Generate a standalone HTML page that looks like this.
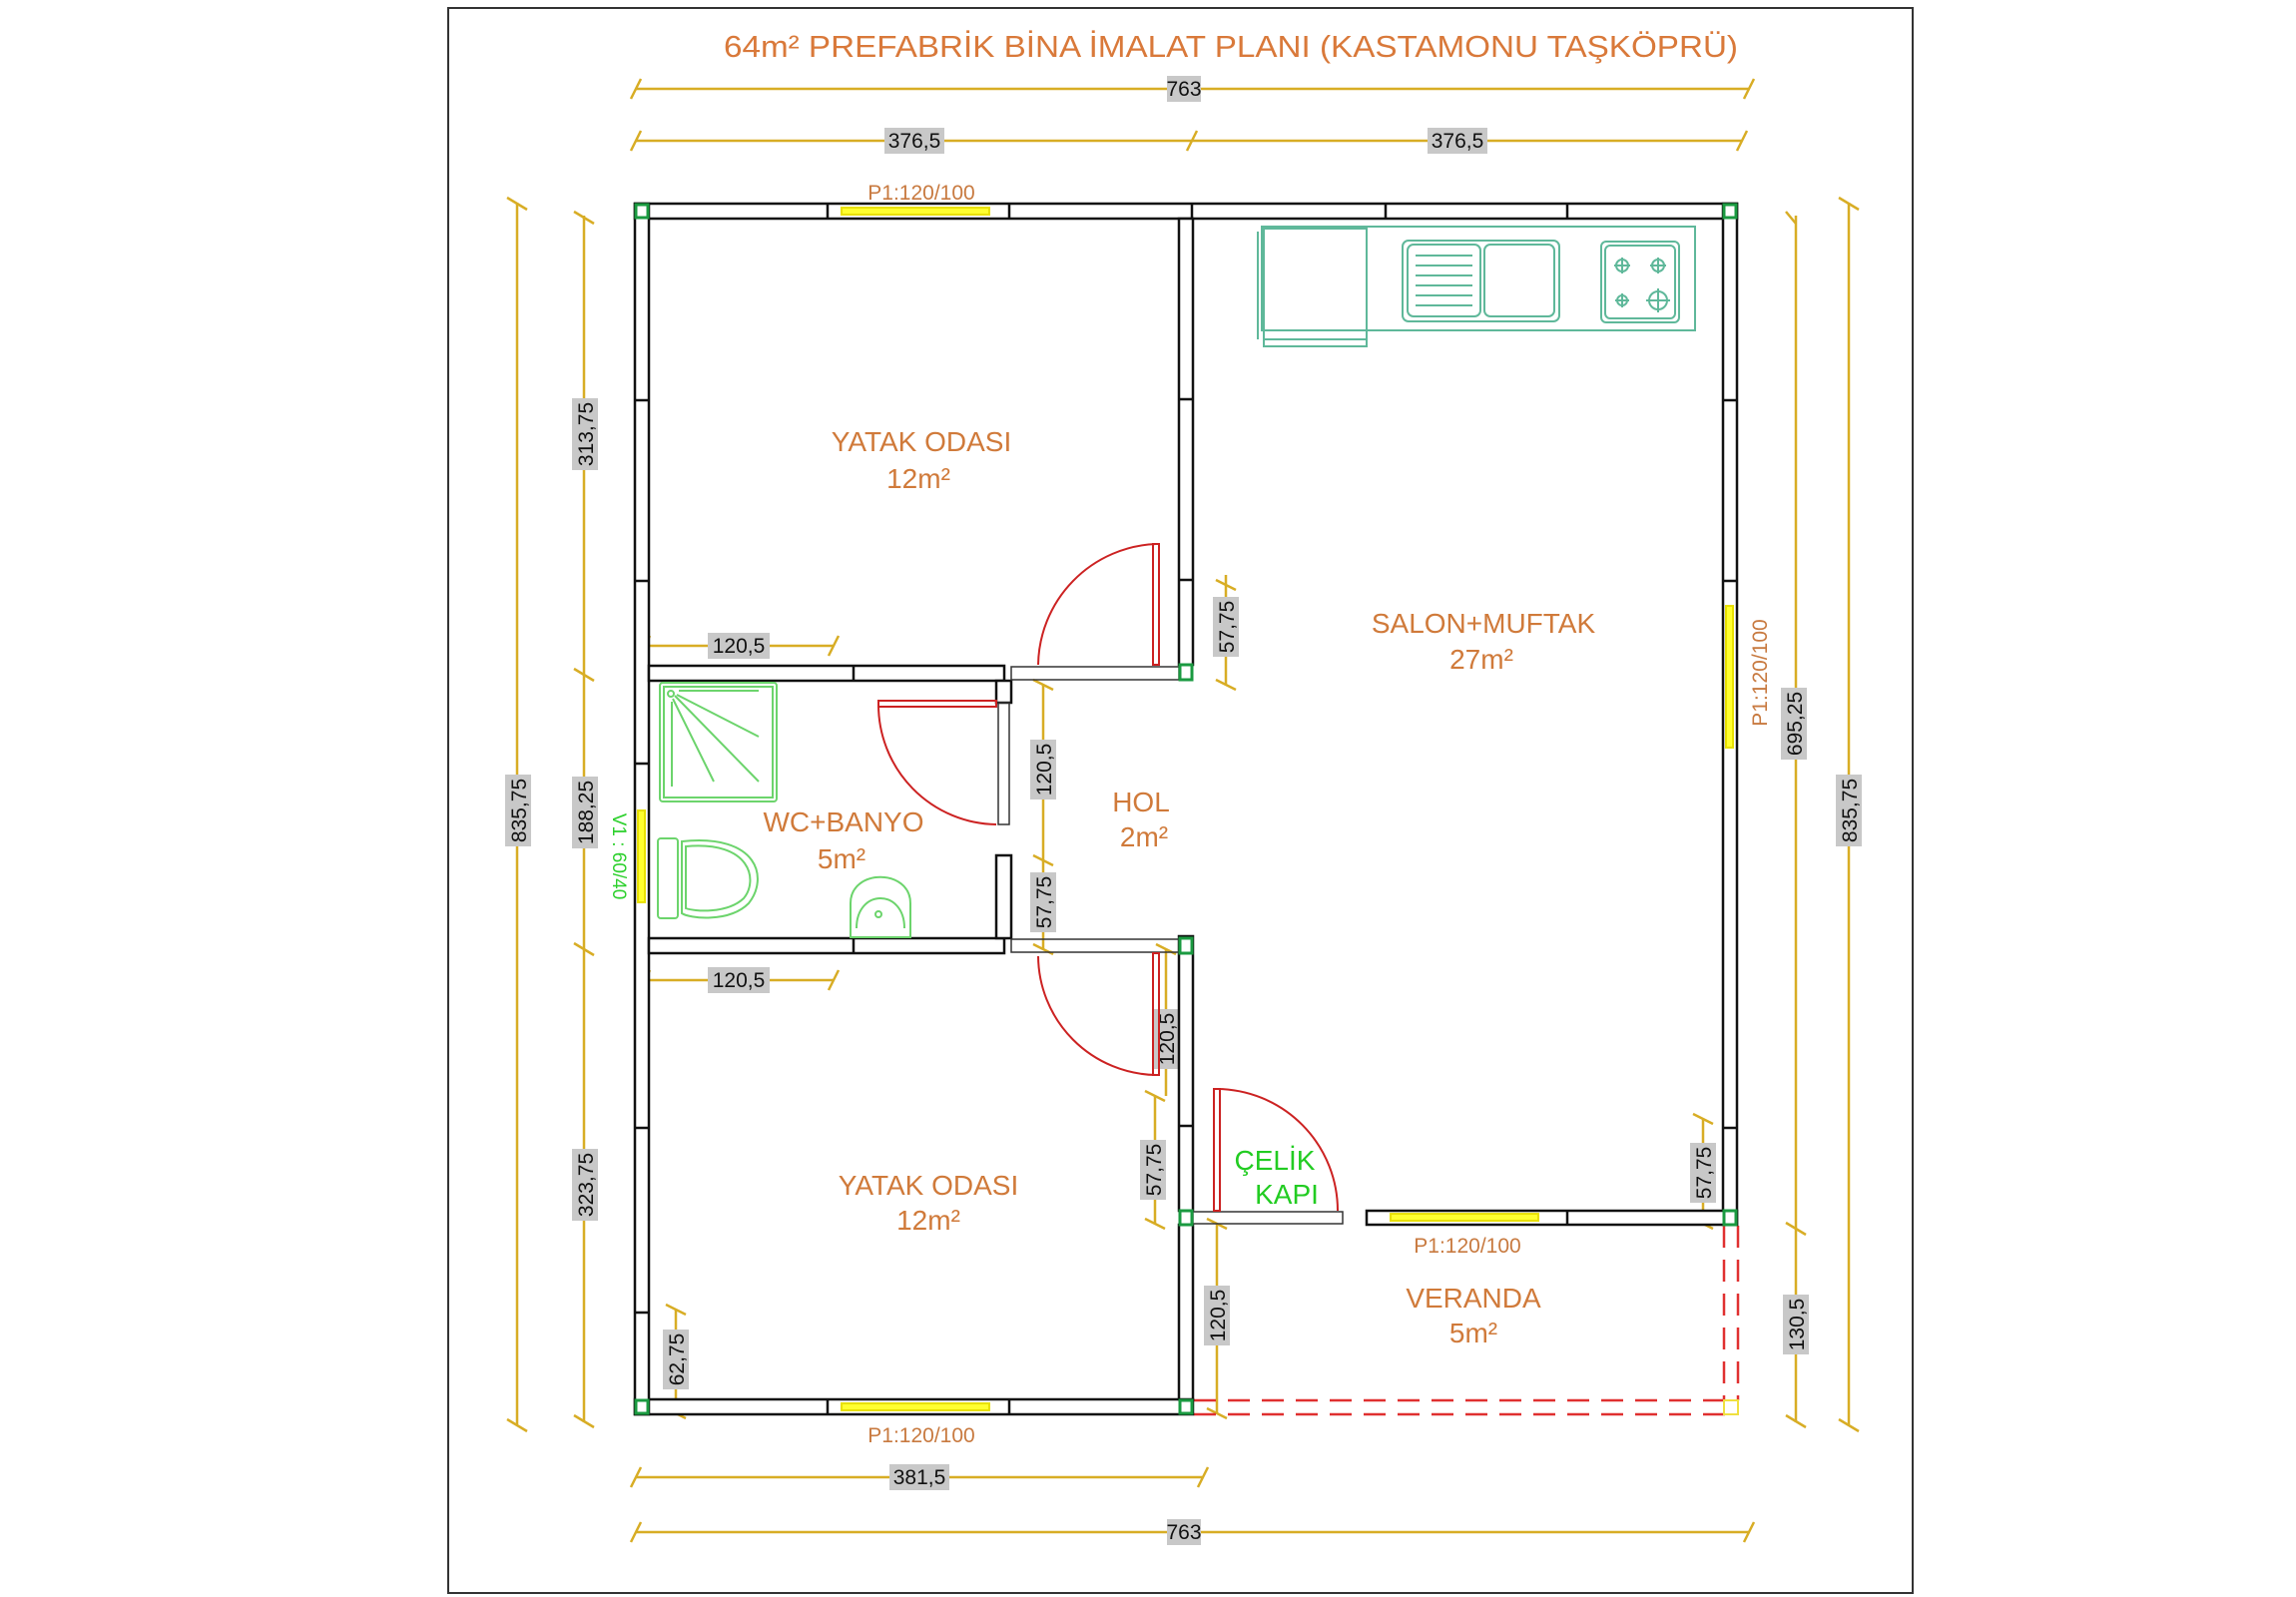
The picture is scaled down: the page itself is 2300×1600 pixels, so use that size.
<!DOCTYPE html>
<html><head><meta charset="utf-8"><style>
html,body{margin:0;padding:0;background:#fff;}
svg{display:block;}
text{font-family:"Liberation Sans",sans-serif;}
</style></head><body>
<svg width="2300" height="1600" viewBox="0 0 2300 1600" xmlns="http://www.w3.org/2000/svg">
<rect x="0" y="0" width="2300" height="1600" fill="#fff"/>
<rect x="449" y="8" width="1467" height="1588" fill="none" stroke="#333" stroke-width="2"/>

<!-- Title -->
<text x="725" y="57" font-size="31" fill="#d9793a" textLength="1016" lengthAdjust="spacingAndGlyphs">64m² PREFABRİK BİNA İMALAT PLANI (KASTAMONU TAŞKÖPRÜ)</text>

<!-- dimension lines -->
<g stroke="#d8ad25" stroke-width="2.5" fill="none">
<line x1="637" y1="89" x2="1752" y2="89"/>
<line x1="637" y1="141" x2="1745" y2="141"/>
<line x1="637" y1="1480" x2="1205" y2="1480"/>
<line x1="637" y1="1535" x2="1752" y2="1535"/>
<line x1="518" y1="203" x2="518" y2="1427"/>
<line x1="585" y1="216" x2="585" y2="1425"/>
<line x1="1799" y1="216" x2="1799" y2="1425"/>
<line x1="1852" y1="203" x2="1852" y2="1427"/>
<line x1="646" y1="647" x2="835" y2="647"/>
<line x1="646" y1="982" x2="835" y2="982"/>
<line x1="1228" y1="576" x2="1228" y2="686"/>
<line x1="1045" y1="686" x2="1045" y2="951"/>
<line x1="1168" y1="951" x2="1168" y2="1098"/>
<line x1="1157" y1="1098" x2="1157" y2="1226"/>
<line x1="1706" y1="1121" x2="1706" y2="1226"/>
<line x1="1219" y1="1226" x2="1219" y2="1416"/>
<line x1="677" y1="1312" x2="677" y2="1416"/>
</g>
<!-- ticks -->
<g stroke="#d8ad25" stroke-width="2.5">
<path d="M632 99 L642 79 M1747 99 L1757 79 M632 151 L642 131 M1189 151 L1199 131 M1740 151 L1750 131 M632 1490 L642 1470 M1200 1490 L1210 1470 M632 1545 L642 1525 M1747 1545 L1757 1525"/>
<path d="M508 198 L528 210 M508 1422 L528 1434 M575 212 L595 224 M575 670 L595 682 M575 945 L595 957 M575 1418 L595 1430 M1789 212 L1799 224 M1789 1225 L1809 1237 M1789 1418 L1809 1430 M1842 198 L1862 210 M1842 1422 L1862 1434"/>
<path d="M641 657 L651 637 M830 657 L840 637 M641 992 L651 972 M830 992 L840 972 M1218 581 L1238 591 M1218 681 L1238 691 M1035 681 L1055 691 M1035 857 L1055 867 M1035 946 L1055 956 M1158 946 L1178 956 M1147 1093 L1167 1103 M1147 1221 L1167 1231 M1696 1116 L1716 1126 M1696 1221 L1716 1231 M1209 1221 L1229 1231 M1209 1411 L1229 1421 M667 1307 L687 1317 M667 1411 L687 1421"/>
</g>
<!-- dim labels -->
<g font-size="21" fill="#111">
<rect x="1169" y="76" width="34" height="26" fill="#c8c8c8"/><text x="1186" y="96" text-anchor="middle">763</text>
<rect x="886" y="128" width="60" height="26" fill="#c8c8c8"/><text x="916" y="148" text-anchor="middle">376,5</text>
<rect x="1430" y="128" width="60" height="26" fill="#c8c8c8"/><text x="1460" y="148" text-anchor="middle">376,5</text>
<rect x="709" y="634" width="62" height="26" fill="#c8c8c8"/><text x="740" y="654" text-anchor="middle">120,5</text>
<rect x="709" y="969" width="62" height="26" fill="#c8c8c8"/><text x="740" y="989" text-anchor="middle">120,5</text>
<rect x="891" y="1467" width="60" height="26" fill="#c8c8c8"/><text x="921" y="1487" text-anchor="middle">381,5</text>
<rect x="1169" y="1522" width="34" height="26" fill="#c8c8c8"/><text x="1186" y="1542" text-anchor="middle">763</text>
</g>
<g font-size="21" fill="#111" text-anchor="middle">
<g transform="translate(519,812) rotate(-90)"><rect x="-36" y="-13" width="72" height="26" fill="#c8c8c8"/><text y="8">835,75</text></g>
<g transform="translate(586,435) rotate(-90)"><rect x="-36" y="-13" width="72" height="26" fill="#c8c8c8"/><text y="8">313,75</text></g>
<g transform="translate(586,814) rotate(-90)"><rect x="-36" y="-13" width="72" height="26" fill="#c8c8c8"/><text y="8">188,25</text></g>
<g transform="translate(586,1187) rotate(-90)"><rect x="-36" y="-13" width="72" height="26" fill="#c8c8c8"/><text y="8">323,75</text></g>
<g transform="translate(1797,725) rotate(-90)"><rect x="-36" y="-13" width="72" height="26" fill="#c8c8c8"/><text y="8">695,25</text></g>
<g transform="translate(1852,812) rotate(-90)"><rect x="-36" y="-13" width="72" height="26" fill="#c8c8c8"/><text y="8">835,75</text></g>
<g transform="translate(1799,1327) rotate(-90)"><rect x="-30" y="-13" width="60" height="26" fill="#c8c8c8"/><text y="8">130,5</text></g>
<g transform="translate(1228,628) rotate(-90)"><rect x="-30" y="-13" width="60" height="26" fill="#c8c8c8"/><text y="8">57,75</text></g>
<g transform="translate(1045,771) rotate(-90)"><rect x="-30" y="-13" width="60" height="26" fill="#c8c8c8"/><text y="8">120,5</text></g>
<g transform="translate(1045,904) rotate(-90)"><rect x="-30" y="-13" width="60" height="26" fill="#c8c8c8"/><text y="8">57,75</text></g>
<g transform="translate(1168,1041) rotate(-90)"><rect x="-30" y="-13" width="60" height="26" fill="#c8c8c8"/><text y="8">120,5</text></g>
<g transform="translate(1155,1172) rotate(-90)"><rect x="-30" y="-13" width="60" height="26" fill="#c8c8c8"/><text y="8">57,75</text></g>
<g transform="translate(1706,1175) rotate(-90)"><rect x="-30" y="-13" width="60" height="26" fill="#c8c8c8"/><text y="8">57,75</text></g>
<g transform="translate(1219,1318) rotate(-90)"><rect x="-30" y="-13" width="60" height="26" fill="#c8c8c8"/><text y="8">120,5</text></g>
<g transform="translate(677,1362) rotate(-90)"><rect x="-30" y="-13" width="60" height="26" fill="#c8c8c8"/><text y="8">62,75</text></g>
</g>

<!-- veranda dashed -->
<g stroke="#e03030" stroke-width="2.5" fill="none" stroke-dasharray="22,12">
<line x1="1196" y1="1403" x2="1740" y2="1403"/>
<line x1="1196" y1="1417" x2="1740" y2="1417"/>
<line x1="1727" y1="1228" x2="1727" y2="1403"/>
<line x1="1741" y1="1228" x2="1741" y2="1403"/>
</g>
<rect x="1727" y="1403" width="14" height="14" fill="none" stroke="#f0e040" stroke-width="2"/>

<!-- walls -->
<g fill="#fff" stroke="#111" stroke-width="2.5">
<rect x="636" y="204" width="1104" height="15"/>
<rect x="636" y="1402" width="559" height="15"/>
<rect x="636" y="204" width="14" height="1213"/>
<rect x="1726" y="204" width="14" height="1023"/>
<rect x="1181" y="219" width="14" height="447"/>
<rect x="650" y="667" width="356" height="15"/>
<rect x="650" y="940" width="356" height="15"/>
<rect x="998" y="682" width="15" height="22"/>
<rect x="998" y="857" width="15" height="83"/>
<rect x="1181" y="938" width="14" height="275"/>
<rect x="1181" y="1227" width="14" height="175"/>
<rect x="1369" y="1213" width="371" height="14"/>
</g>
<g stroke="#111" stroke-width="2.5">
<path d="M829 204 V219 M1011 204 V219 M1194 204 V219 M1388 204 V219 M1570 204 V219 M636 401 H650 M636 582 H650 M636 765 H650 M636 1130 H650 M636 1315 H650 M829 1402 V1417 M1011 1402 V1417 M1181 400 H1195 M1181 581 H1195 M1181 1128 H1195 M1726 401 H1740 M1726 582 H1740 M1726 1130 H1740 M855 667 V682 M855 940 V955 M1570 1213 V1227"/>
</g>
<!-- door frames thin -->
<g stroke="#333" stroke-width="1.5" fill="none">
<rect x="1013" y="668" width="168" height="13"/>
<rect x="1013" y="941" width="168" height="13"/>
<rect x="1195" y="1214" width="150" height="12"/>
<rect x="1000" y="704" width="11" height="122"/>
</g>
<!-- corner green -->
<g fill="none" stroke="#1a9a40" stroke-width="3">
<rect x="637" y="205" width="12" height="13"/><rect x="1727" y="205" width="12" height="13"/>
<rect x="1182" y="666" width="12" height="15"/><rect x="1182" y="940" width="12" height="15"/>
<rect x="1182" y="1213" width="12" height="14"/><rect x="1727" y="1213" width="12" height="14"/>
<rect x="637" y="1403" width="12" height="13"/><rect x="1182" y="1403" width="12" height="13"/>
</g>

<!-- windows -->
<g fill="#ffff30" stroke="#e8e000" stroke-width="2">
<rect x="843" y="208" width="148" height="7"/>
<rect x="843" y="1406" width="148" height="7"/>
<rect x="1393" y="1216" width="148" height="7"/>
<rect x="1729" y="607" width="7" height="142"/>
<rect x="639" y="812" width="7" height="92"/>
</g>
<g font-size="21" fill="#c87a40" text-anchor="middle">
<text x="923" y="200">P1:120/100</text>
<text x="923" y="1445">P1:120/100</text>
<text x="1470" y="1255">P1:120/100</text>
<text transform="translate(1770,674) rotate(-90)">P1:120/100</text>
</g>
<text transform="translate(614,858) rotate(90)" font-size="19" fill="#2cd02c" text-anchor="middle">V1 : 60/40</text>

<!-- doors -->
<g stroke="#cc2222" stroke-width="2" fill="none">
<rect x="1155" y="545" width="6" height="121"/>
<path d="M1158 545 A123 123 0 0 0 1040 666"/>
<rect x="880" y="702" width="118" height="6"/>
<path d="M880 705 A120 120 0 0 0 998 826"/>
<rect x="1155" y="955" width="6" height="122"/>
<path d="M1040 958 A120 120 0 0 0 1158 1077"/>
<rect x="1216" y="1091" width="6" height="122"/>
<path d="M1219 1091 A122 122 0 0 1 1340 1213"/>
</g>

<!-- kitchen -->
<g stroke="#5fb89a" stroke-width="2" fill="none">
<rect x="1264" y="227" width="434" height="104"/>
<rect x="1266" y="229" width="103" height="118"/>
<line x1="1266" y1="340" x2="1369" y2="340"/>
<line x1="1260" y1="232" x2="1260" y2="340"/>
<rect x="1405" y="241" width="157" height="81" rx="6"/>
<rect x="1410" y="245" width="73" height="72" rx="6"/>
<rect x="1487" y="245" width="70" height="72" rx="6"/>
<path d="M1418 256 H1475 M1418 266 H1475 M1418 276 H1475 M1418 286 H1475 M1418 296 H1475 M1418 306 H1475"/>
<rect x="1604" y="242" width="78" height="81" rx="5"/>
<rect x="1608" y="246" width="70" height="73" rx="5"/>
<circle cx="1625" cy="266" r="6"/><path d="M1617 266 H1633 M1625 258 V274"/>
<circle cx="1661" cy="266" r="6"/><path d="M1653 266 H1669 M1661 258 V274"/>
<circle cx="1625" cy="301" r="5"/><path d="M1618 301 H1632 M1625 294 V308"/>
<circle cx="1661" cy="301" r="9"/><path d="M1649 301 H1673 M1661 289 V313"/>
</g>
<!-- bathroom -->
<g stroke="#6cd46c" stroke-width="2" fill="none">
<rect x="661" y="684" width="117" height="119" rx="3"/>
<rect x="665" y="688" width="109" height="111"/>
<circle cx="672" cy="695" r="3"/>
<path d="M673 703 V788 M680 692 H760 M674 700 L715 783 M676 697 L760 783 M678 696 L760 738"/>
<rect x="659" y="840" width="20" height="80" rx="3"/>
<path d="M683 843 C760 835 770 880 750 905 C730 925 690 920 683 915 Z"/>
<path d="M687 848 C752 842 760 882 745 900 C728 916 695 913 687 910 Z"/>
<path d="M852 939 V905 C852 870 912 870 912 905 V939 Z"/>
<path d="M858 930 C858 890 906 890 906 930"/>
<circle cx="880" cy="916" r="3"/>
</g>

<!-- room labels -->
<g font-size="28" fill="#d07a3a" text-anchor="middle">
<text x="923" y="452">YATAK ODASI</text>
<text x="920" y="489">12m²</text>
<text x="1486" y="634">SALON+MUFTAK</text>
<text x="1484" y="670">27m²</text>
<text x="1143" y="813">HOL</text>
<text x="1146" y="848">2m²</text>
<text x="845" y="833">WC+BANYO</text>
<text x="843" y="870">5m²</text>
<text x="930" y="1197">YATAK ODASI</text>
<text x="930" y="1232">12m²</text>
<text x="1476" y="1310">VERANDA</text>
<text x="1476" y="1345">5m²</text>
</g>
<g font-size="28" fill="#22cc22" text-anchor="middle">
<text x="1277" y="1172">ÇELİK</text>
<text x="1289" y="1206">KAPI</text>
</g>
</svg>
</body></html>
